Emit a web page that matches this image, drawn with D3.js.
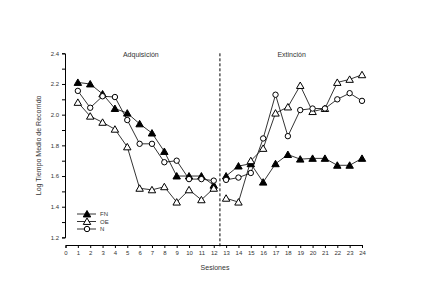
<!DOCTYPE html>
<html lang="es">
<head>
    <meta charset="UTF-8">
    <title>Tiempo de recorrido</title>
    <script src="https://d3js.org/d3.v7.min.js"></script>
    <style>
        body { margin: 0; background: #fff; }
        text { font-family: "Liberation Sans", Arial, sans-serif; fill: #333; }
    </style>
</head>
<body>
    <svg id="chart" width="431" height="284"></svg>

    <script>
        // datos
        var sesiones = d3.range(1, 25)
        var fn = [2.21, 2.20, 2.135, 2.04, 2.01, 1.94, 1.88, 1.76, 1.60, 1.60, 1.60, 1.54,
                  1.60, 1.665, 1.68, 1.56, 1.68, 1.74, 1.71, 1.715, 1.715, 1.67, 1.67, 1.715]
        var oe = [2.08, 1.99, 1.95, 1.905, 1.79, 1.52, 1.51, 1.53, 1.43, 1.51, 1.445, 1.52,
                  1.455, 1.43, 1.70, 1.78, 2.01, 2.05, 2.19, 2.02, 2.04, 2.21, 2.23, 2.26]
        var n  = [2.155, 2.045, 2.12, 2.115, 1.965, 1.81, 1.81, 1.69, 1.70, 1.58, 1.58, 1.57,
                  1.575, 1.59, 1.62, 1.845, 2.13, 1.86, 2.03, 2.04, 2.04, 2.10, 2.14, 2.09]
        var grupos = ["FN", "OE", "N"]
        var yTicks = d3.range(12, 25).map(function(d){ return d / 10 })
        var xTicks = d3.range(0, 25)

        var svg = d3.select("#chart")
        var x = d3.scaleLinear().domain([0, 24]).range([65.5, 362]),
            y = d3.scaleLinear().domain([1.2, 2.4]).range([237.4, 53.3])

        // ejes
        svg.append("g")
            .attr("transform", "translate(65,0)")
            .call(d3.axisLeft(y).tickValues(yTicks).tickSize(3)
                .tickFormat(function(d){ return Math.round(d * 10) % 2 == 0 ? d3.format(".1f")(d) : "" }))
            .call(styleAxis)

        svg.append("g")
            .attr("transform", "translate(0,245)")
            .call(d3.axisBottom(x).tickValues(xTicks).tickSize(3).tickFormat(d3.format("d")))
            .call(styleAxis)

        function styleAxis(g){
            g.select(".domain").attr("stroke", "#000").attr("stroke-width", 1)
            g.selectAll(".tick line").attr("stroke", "#000")
            g.selectAll(".tick text").attr("font-size", 6).attr("fill", "#333")
                .attr("font-family", "Liberation Sans, Arial, sans-serif")
        }

        // linea de fase
        svg.append("line")
            .attr("x1", x(12.5)).attr("x2", x(12.5))
            .attr("y1", y(2.4)).attr("y2", 247)
            .attr("stroke", "#000").attr("stroke-dasharray", "3,2")

        svg.append("text").attr("x", x(6.1)).attr("y", 57)
            .attr("text-anchor", "middle").attr("font-size", 7).text("Adquisición")
        svg.append("text").attr("x", x(18.3)).attr("y", 57)
            .attr("text-anchor", "middle").attr("font-size", 7).text("Extinción")

        svg.append("text").attr("x", 215).attr("y", 270)
            .attr("text-anchor", "middle").attr("font-size", 7).text("Sesiones")
        svg.append("text")
            .attr("transform", "translate(41," + y(1.8) + ") rotate(-90)")
            .attr("text-anchor", "middle").attr("font-size", 7).text("Log Tiempo Medio de Recorrido")

        var tri = d3.symbol().type(d3.symbolTriangle).size(24)

        function drawMarker(g, tipo){
            if (tipo == "N") {
                g.append("circle").attr("r", 2.7).attr("fill", "#fff").attr("stroke", "#000")
            } else {
                g.append("path").attr("d", tri).attr("transform", "translate(0,0.8)")
                    .attr("fill", tipo == "FN" ? "#000" : "#fff").attr("stroke", "#000")
            }
        }

        var line = d3.line()
            .x(function(d){ return x(d[0]) })
            .y(function(d){ return y(d[1]) })

        var series = [["FN", fn], ["OE", oe], ["N", n]]
        series.forEach(function(s){
            [[0, 12], [12, 24]].forEach(function(r){
                var pts = sesiones.slice(r[0], r[1]).map(function(d, i){ return [d, s[1][r[0] + i]] })
                svg.append("path").datum(pts).attr("d", line)
                    .attr("fill", "none").attr("stroke", "#000").attr("stroke-width", 0.8)
            })
        })
        series.forEach(function(s){
            sesiones.forEach(function(d, i){
                var g = svg.append("g").attr("transform", "translate(" + x(d) + "," + y(s[1][i]) + ")")
                drawMarker(g, s[0])
            })
        })

        // leyenda
        grupos.forEach(function(gr, i){
            var ly = 214 + i * 7.5
            svg.append("line").attr("x1", 77).attr("x2", 96).attr("y1", ly).attr("y2", ly)
                .attr("stroke", "#000").attr("stroke-width", 0.8)
            var g = svg.append("g").attr("transform", "translate(87," + ly + ")")
            drawMarker(g, gr)
            svg.append("text").attr("x", 100).attr("y", ly + 2).attr("font-size", 6).text(gr)
        })
    </script>
</body>
</html>
